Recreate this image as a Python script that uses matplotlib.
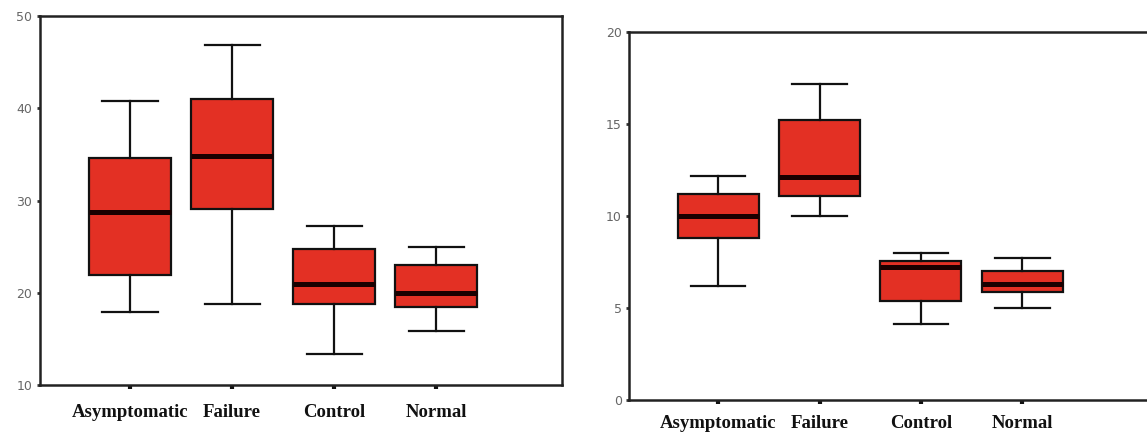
import matplotlib
matplotlib.use("Agg")
import matplotlib.pyplot as plt

groups = ["Asymptomatic", "Failure", "Control", "Normal"]

# left panel
left_min = [17.9, 18.8, 13.4, 15.9]
left_q1 = [21.9, 29.1, 18.8, 18.5]
left_med = [28.7, 34.8, 21.0, 20.0]
left_q3 = [34.6, 41.0, 24.7, 23.0]
left_max = [40.8, 46.9, 27.2, 25.0]

# right panel
right_min = [6.2, 10.0, 4.1, 5.0]
right_q1 = [8.8, 11.1, 5.35, 5.85]
right_med = [10.0, 12.1, 7.2, 6.3]
right_q3 = [11.2, 15.2, 7.55, 7.0]
right_max = [12.15, 17.15, 8.0, 7.7]

red = "#e33024"


def make_stats(mins, q1s, meds, q3s, maxs):
    stats = []
    for i in range(len(groups)):
        stats.append({"whislo": mins[i], "q1": q1s[i], "med": meds[i],
                      "q3": q3s[i], "whishi": maxs[i], "fliers": [],
                      "label": groups[i]})
    return stats


def draw(ax, stats, ylim, yticks, label_pad):
    ax.bxp(stats, positions=[1, 2, 3, 4], widths=0.8, showfliers=False,
           patch_artist=True,
           boxprops=dict(facecolor=red, edgecolor="#111111", linewidth=1.6),
           medianprops=dict(color="#1a0000", linewidth=3.6),
           whiskerprops=dict(color="#111111", linewidth=1.6),
           capprops=dict(color="#111111", linewidth=1.6),
           capwidths=0.54)
    ax.set_ylim(ylim)
    ax.set_yticks(yticks)
    ax.set_xticks([1, 2, 3, 4])
    ax.set_xticklabels(groups, fontfamily="Liberation Serif", fontweight="bold",
                       fontsize=13.5, color="#111111")
    ax.tick_params(axis="x", length=3, width=3, color="#111111", pad=label_pad)
    ax.tick_params(axis="y", length=2.5, width=2, color="#333333", pad=3,
                   labelsize=9, labelcolor="#666666")
    for s in ax.spines.values():
        s.set_linewidth(1.8)
        s.set_color("#222222")


fig = plt.figure(figsize=(11.47, 4.32), dpi=100)

ax1 = fig.add_axes([40 / 1147, 1 - 385 / 432, (561.7 - 40) / 1147, (385 - 16) / 432])
draw(ax1, make_stats(left_min, left_q1, left_med, left_q3, left_max),
     (10, 50), [10, 20, 30, 40, 50], 11)
ax1.set_xlim(0.118, 5.23)

ax2 = fig.add_axes([629.3 / 1147, 1 - 400 / 432, (1147 - 629.3) / 1147, (400 - 31.7) / 432])
draw(ax2, make_stats(right_min, right_q1, right_med, right_q3, right_max),
     (0, 20), [0, 5, 10, 15, 20], 8)
ax2.set_xlim(0.124, 5.23)
ax2.spines["right"].set_visible(False)

fig.savefig("out.png", dpi=100)
